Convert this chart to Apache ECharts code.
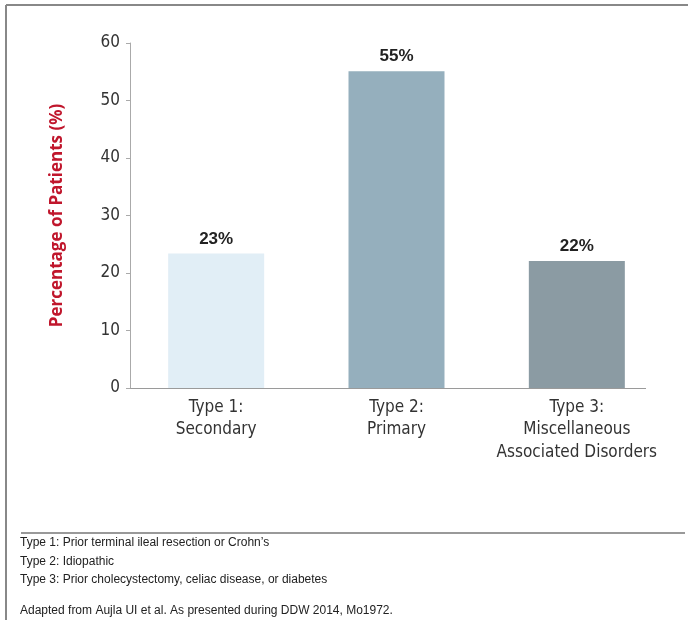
<!DOCTYPE html>
<html>
<head>
<meta charset="utf-8">
<script src="https://cdn.jsdelivr.net/npm/echarts@6/dist/echarts.min.js"></script>
<style>html,body{margin:0;padding:0;background:#fff}#c{width:689px;height:629px}</style>
</head>
<body>
<div id="c"></div>
<script>
const categories = ['Type 1:\nSecondary', 'Type 2:\nPrimary', 'Type 3:\nMiscellaneous\nAssociated Disorders'];
const values = [23.4, 55.1, 22.1];
const valueLabels = ['23%', '55%', '22%'];
const barColors = ['#e1eef6', '#95afbd', '#8b9ba3'];
const yTicks = [0, 10, 20, 30, 40, 50, 60];
const footnotes = [
  'Type 1: Prior terminal ileal resection or Crohn\u2019s',
  'Type 2: Idiopathic',
  'Type 3: Prior cholecystectomy, celiac disease, or diabetes'
];
const source = 'Adapted from Aujla UI et al. As presented during DDW 2014, Mo1972.';

const condensed = '"Liberation Sans Narrow", "DejaVu Sans Condensed", "Roboto", sans-serif';
const chart = echarts.init(document.getElementById('c'), null, {renderer: 'canvas'});

const graphics = [
  {type: 'line', shape: {x1: 6, y1: 5, x2: 688, y2: 5}, style: {stroke: '#888', lineWidth: 2}},
  {type: 'line', shape: {x1: 6, y1: 5, x2: 6, y2: 620}, style: {stroke: '#888', lineWidth: 2}},
  {type: 'line', shape: {x1: 21, y1: 533, x2: 685, y2: 533}, style: {stroke: '#777', lineWidth: 1.5}},
  {type: 'line', shape: {x1: 130, y1: 388.5, x2: 646, y2: 388.5}, style: {stroke: '#9a9a9a', lineWidth: 1.2}}
];
const fnY = [544, 563, 581];
footnotes.forEach((t, i) => {
  graphics.push({type: 'text', left: 20, top: fnY[i] - 7, style: {text: t, font: '12px "Liberation Sans", Arial, sans-serif', fill: '#222'}});
});
graphics.push({type: 'text', left: 20, top: 605, style: {text: source, font: '12px "Liberation Sans", Arial, sans-serif', fill: '#222'}});

chart.setOption({
  animation: false,
  grid: {left: 126, top: 43, width: 541, height: 345, containLabel: false},
  xAxis: {
    type: 'category',
    data: categories,
    axisLine: {show: false},
    axisTick: {show: false},
    axisLabel: {
      margin: 8,
      color: '#333',
      fontFamily: condensed,
      fontSize: 17,
      lineHeight: 22.5,
      interval: 0
    }
  },
  yAxis: {
    type: 'value',
    min: yTicks[0],
    max: yTicks[yTicks.length - 1],
    interval: 10,
    offset: -4,
    name: 'Percentage of Patients (%)',
    nameLocation: 'middle',
    nameGap: 64,
    nameTextStyle: {color: '#c0162c', fontWeight: 'bold', fontSize: 17, fontFamily: '"Open Sans", sans-serif'},
    splitLine: {show: false},
    axisLine: {show: true, lineStyle: {color: '#aaa', width: 1}},
    axisTick: {show: true, length: 4, lineStyle: {color: '#aaa'}},
    axisLabel: {margin: 10, color: '#333', fontFamily: condensed, fontSize: 17, padding: [3, 0, 0, 0]}
  },
  series: [{
    type: 'bar',
    barWidth: 96,
    data: values.map((v, i) => ({value: v, itemStyle: {color: barColors[i]}})),
    label: {
      show: true,
      position: 'top',
      distance: 6,
      formatter: p => valueLabels[p.dataIndex],
      color: '#222',
      fontWeight: 'bold',
      fontSize: 17,
      fontFamily: '"Liberation Sans", Arial, sans-serif'
    }
  }],
  graphic: graphics
});
</script>
</body>
</html>
